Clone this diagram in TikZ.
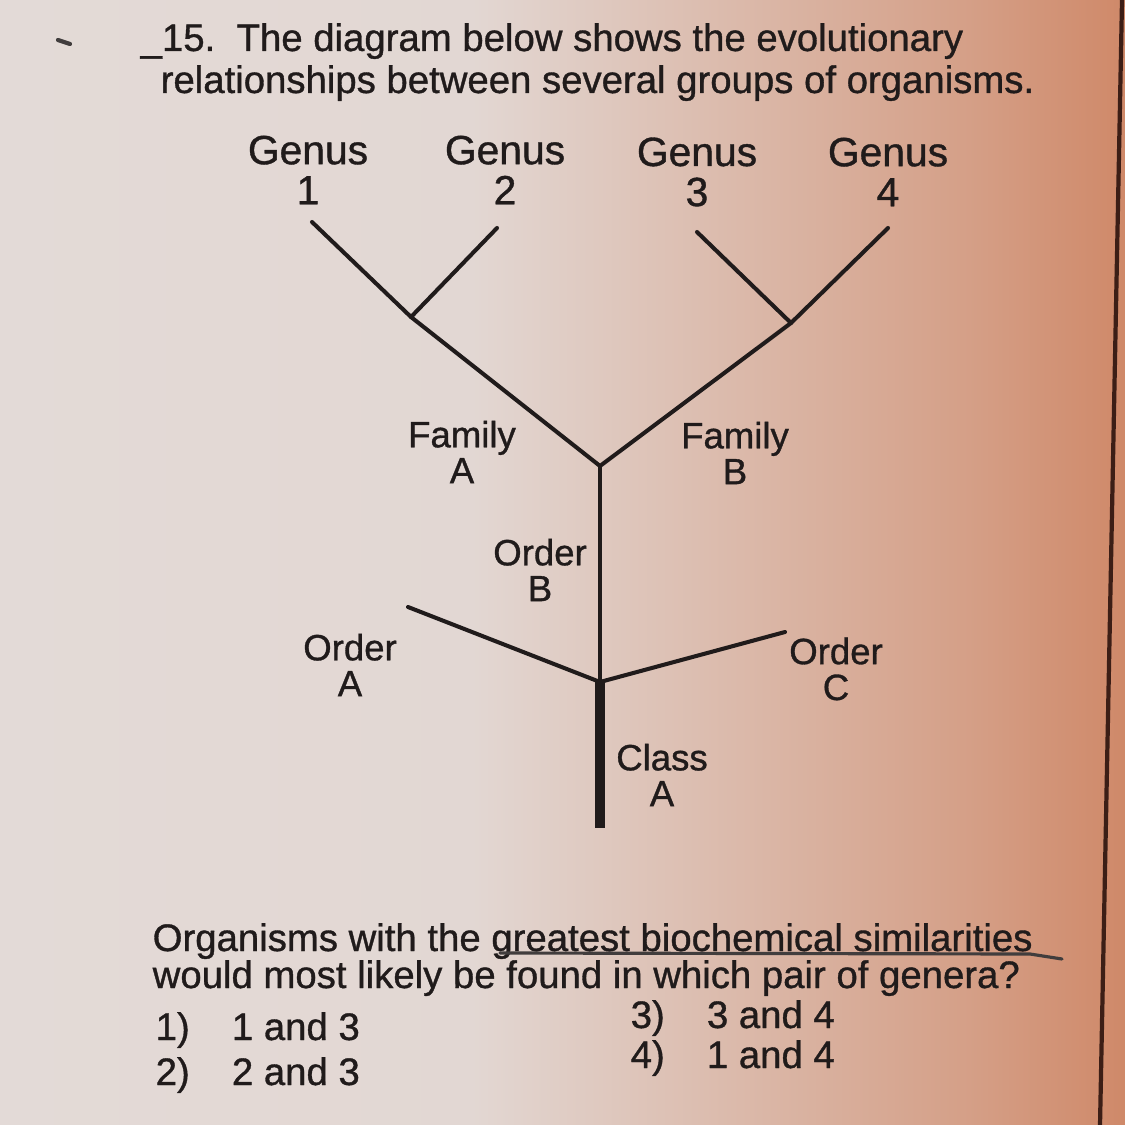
\documentclass[tikz,border=0pt]{standalone}
\usepackage{fontspec}
\setmainfont{Liberation Sans}[FakeBold=0.9]
\definecolor{ink}{RGB}{32,27,27}
\definecolor{paperL}{RGB}{228,222,220}
\definecolor{paperR}{RGB}{200,108,66}
\definecolor{edge}{RGB}{60,30,22}
\pgfdeclarehorizontalshading{paper}{100bp}{color(0bp)=(paperL); color(46bp)=(paperL!94!paperR); color(68bp)=(paperR!55!paperL); color(84bp)=(paperR); color(100bp)=(paperR!90!black)}

\begin{document}
\begin{tikzpicture}[
  x=0.01cm, y=-0.01cm,
  every node/.style={text=ink, inner sep=0pt},
  qtext/.style={anchor=base west, font=\fontsize{10.9}{13}\selectfont},
  genus/.style={align=center, font=\fontsize{11.6}{11.4}\selectfont},
  rank/.style={align=center, font=\fontsize{10.4}{10.2}\selectfont},
  branch/.style={draw=ink, line width=1.15pt, line cap=round},
  trunk/.style={draw=ink, line width=2.6pt},
  pen/.style={draw=ink!85, line width=0.9pt, line cap=round}
]
\useasboundingbox (0,0) rectangle (1125,1125);
\shade[shading=paper] (0,0) rectangle (1125,1125);
\draw[edge, line width=1.2pt] (1122,0) -- (1100,1125);

% question
\draw[pen, line width=1.2pt] (58,40) -- (70,44);
\node[qtext] (t1) at (140,51) {\_15.\ \ The diagram below shows the evolutionary};
\node[qtext] (t2) at (160,93) {relationships between several groups of organisms.};

% genera
\node[genus] (lg1) at (308,170) {Genus\\1};
\node[genus] (lg2) at (505,170) {Genus\\2};
\node[genus] (lg3) at (697,172) {Genus\\3};
\node[genus] (lg4) at (888,172) {Genus\\4};

% tree
\coordinate (g1) at (312,222);
\coordinate (g2) at (497,228);
\coordinate (g3) at (697,232);
\coordinate (g4) at (888,228);
\coordinate (fa) at (411,317);
\coordinate (fb) at (791,323);
\coordinate (ob) at (600,466);
\coordinate (oa) at (408,607);
\coordinate (oc) at (785,632);
\coordinate (cl) at (600,682);
\coordinate (root) at (600,828);

\draw[branch] (g1) -- (fa) -- (ob) -- (fb) -- (g4);
\draw[branch] (g2) -- (fa);
\draw[branch] (g3) -- (fb);
\draw[branch] (ob) -- (cl);
\draw[branch] (oa) -- (cl) -- (oc);
\draw[trunk] (cl) -- (root);

\node[rank] (lfa) at (462,452) {Family\\A};
\node[rank] (lfb) at (735,453) {Family\\B};
\node[rank] (lob) at (540,570) {Order\\B};
\node[rank] (loa) at (350,665) {Order\\A};
\node[rank] (loc) at (836,669) {Order\\C};
\node[rank] (lca) at (662,775) {Class\\A};

% answers
\node[qtext] (q1) at (152,951) {Organisms with the greatest biochemical similarities};
\node[qtext] (q2) at (152,988) {would most likely be found in which pair of genera?};
\coordinate (ul1) at (500,953);
\coordinate (ul2) at (1030,954);
\coordinate (ul3) at (1062,959);
\draw[pen] (ul1) -- (ul2) -- (ul3);

\node[qtext] (a1) at (155,1040) {1)\hspace{1.1em}1 and 3};
\node[qtext] (a2) at (155,1085) {2)\hspace{1.1em}2 and 3};
\node[qtext] (a3) at (630,1028) {3)\hspace{1.1em}3 and 4};
\node[qtext] (a4) at (630,1068) {4)\hspace{1.1em}1 and 4};
\end{tikzpicture}
\end{document}
